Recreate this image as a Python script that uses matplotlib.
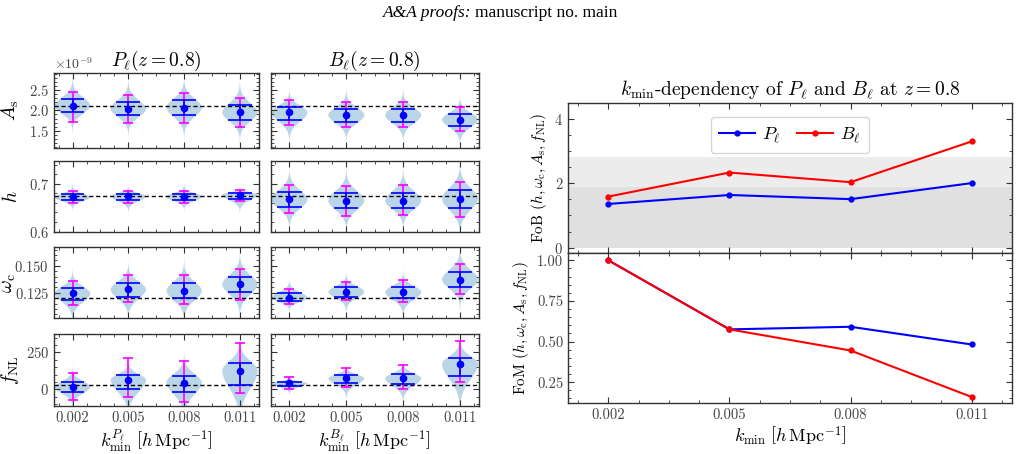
import numpy as np
import matplotlib
matplotlib.use('Agg')
import matplotlib.pyplot as plt
from matplotlib.ticker import AutoMinorLocator, FormatStrFormatter

# ---------------- data ----------------
k_vals = [0.002, 0.005, 0.008, 0.011]
k_labels = ['0.002', '0.005', '0.008', '0.011']

# A_s (units of 1e-9): mean, 1-sigma low/high, 2-sigma low/high
P_As_mean = [2.12, 2.035, 2.07, 1.95]
P_As_lo1 = [1.96, 1.875, 1.885, 1.775]
P_As_hi1 = [2.285, 2.21, 2.25, 2.135]
P_As_lo2 = [1.71, 1.685, 1.70, 1.585]
P_As_hi2 = [2.46, 2.385, 2.435, 2.30]
B_As_mean = [1.95, 1.885, 1.885, 1.775]
B_As_lo1 = [1.77, 1.725, 1.72, 1.62]
B_As_hi1 = [2.085, 2.035, 2.035, 1.91]
B_As_lo2 = [1.635, 1.585, 1.60, 1.49]
B_As_hi2 = [2.25, 2.20, 2.20, 2.075]

P_h_mean = [0.672, 0.674, 0.673, 0.677]
P_h_lo1 = [0.6655, 0.666, 0.666, 0.668]
P_h_hi1 = [0.678, 0.679, 0.679, 0.681]
P_h_lo2 = [0.659, 0.6595, 0.659, 0.663]
P_h_hi2 = [0.6845, 0.686, 0.685, 0.687]
B_h_mean = [0.6675, 0.665, 0.665, 0.669]
B_h_lo1 = [0.652, 0.649, 0.650, 0.650]
B_h_hi1 = [0.683, 0.681, 0.681, 0.687]
B_h_lo2 = [0.639, 0.633, 0.635, 0.631]
B_h_hi2 = [0.698, 0.695, 0.698, 0.704]

P_wc_mean = [0.1244, 0.1281, 0.1269, 0.1328]
P_wc_lo1 = [0.1180, 0.1213, 0.1198, 0.1254]
P_wc_hi1 = [0.1296, 0.1340, 0.1337, 0.1398]
P_wc_lo2 = [0.1133, 0.1161, 0.1142, 0.1182]
P_wc_hi2 = [0.1361, 0.1411, 0.1411, 0.1472]
B_wc_mean = [0.1204, 0.1259, 0.1256, 0.1373]
B_wc_lo1 = [0.1173, 0.1213, 0.1200, 0.1305]
B_wc_hi1 = [0.1244, 0.1300, 0.1302, 0.1444]
B_wc_lo2 = [0.1142, 0.1179, 0.1160, 0.1241]
B_wc_hi2 = [0.1281, 0.1346, 0.1364, 0.1519]

P_fNL_mean = [15, 65, 45, 126]
P_fNL_lo1 = [-20, 0, -18, 31]
P_fNL_hi1 = [47, 95, 92, 178]
P_fNL_lo2 = [-72, -54, -84, -23]
P_fNL_hi2 = [108, 210, 191, 311]
B_fNL_mean = [40, 74, 74, 171]
B_fNL_lo1 = [22, 40, 34, 90]
B_fNL_hi1 = [51, 95, 101, 213]
B_fNL_lo2 = [4, 18, 0, 47]
B_fNL_hi2 = [85, 146, 166, 328]

fid_As, fid_h, fid_wc, fid_fNL = 2.12, 0.675, 0.1204, 30

FoB_P = [1.36, 1.64, 1.51, 2.01]
FoB_B = [1.59, 2.34, 2.04, 3.31]
FoM_P = [1.0, 0.575, 0.591, 0.482]
FoM_B = [1.0, 0.575, 0.445, 0.159]
band_outer, band_inner = 2.81, 1.875

# ---------------- style ----------------
plt.rcParams.update({
    'font.family': 'serif', 'font.serif': ['cmr10'], 'mathtext.fontset': 'cm',
    'axes.formatter.use_mathtext': True,
    'xtick.direction': 'in', 'ytick.direction': 'in',
    'xtick.top': True, 'ytick.right': True,
    'xtick.major.size': 4, 'ytick.major.size': 4,
    'xtick.minor.size': 2, 'ytick.minor.size': 2,
    'axes.linewidth': 1.0, 'axes.edgecolor': '#333333',
    'xtick.color': '#333333', 'ytick.color': '#333333',
    'xtick.labelcolor': '#444444', 'ytick.labelcolor': '#444444',
    'xtick.labelsize': 10.5, 'ytick.labelsize': 10.5,
})

W, H = 1029, 454
fig = plt.figure(figsize=(W / 100, H / 100), dpi=100)


def rect(l, t, r, b):
    return [l / W, 1 - b / H, (r - l) / W, (b - t) / H]


rows = [(73, 147.5), (161, 231.5), (247.5, 318), (334, 406)]
cols = [(54, 258.5), (270.5, 479)]

HW = 0.00064  # half width of the 1-sigma bars
k_arr = np.array(k_vals)


def draw(ax, mean, lo1, hi1, lo2, hi2, fid, unit):
    mean, lo1, hi1, lo2, hi2 = [np.array(a, float) * unit for a in (mean, lo1, hi1, lo2, hi2)]
    stats = []
    for m, a, b in zip(mean, lo1, hi1):
        sl, su = (m - a), (b - m)
        y = np.concatenate([np.linspace(m - 5 * sl, m, 250), np.linspace(m, m + 5 * su, 250)[1:]])
        s = np.where(y < m, sl, su)
        z = np.abs(y - m) / s
        d = np.exp(-0.5 * (z / 1.25) ** 2) + 0.03 * np.exp(-z / 1.5)
        stats.append(dict(coords=y, vals=d, mean=m, median=m, min=y[0], max=y[-1]))
    parts = ax.violin(stats, positions=k_vals, widths=0.0019, showextrema=False)
    for body in parts['bodies']:
        body.set_facecolor('#1f77b4')
        body.set_alpha(0.3)
        body.set_edgecolor('none')
    ax.axhline(fid * unit, color='k', ls='--', lw=1.0, dashes=(3, 2), zorder=2)
    ax.errorbar(k_arr, mean, yerr=[mean - lo2, hi2 - mean], fmt='none', ecolor='magenta',
                elinewidth=1.2, capsize=3.5, capthick=1.2, zorder=3)
    ax.vlines(k_arr, lo1, hi1, color='blue', lw=1.2, zorder=4)
    ax.hlines(lo1, k_arr - HW, k_arr + HW, color='blue', lw=1.2, zorder=4)
    ax.hlines(hi1, k_arr - HW, k_arr + HW, color='blue', lw=1.2, zorder=4)
    ax.plot(k_arr, mean, 'o', color='blue', ms=4.5, zorder=5)


params = [
    ((P_As_mean, P_As_lo1, P_As_hi1, P_As_lo2, P_As_hi2), (B_As_mean, B_As_lo1, B_As_hi1, B_As_lo2, B_As_hi2),
     fid_As, 1e-9, r'$A_{\rm s}$', (1.08e-9, 2.93e-9), [1.5e-9, 2.0e-9, 2.5e-9]),
    ((P_h_mean, P_h_lo1, P_h_hi1, P_h_lo2, P_h_hi2), (B_h_mean, B_h_lo1, B_h_hi1, B_h_lo2, B_h_hi2),
     fid_h, 1.0, r'$h$', (0.6, 0.748), [0.6, 0.7]),
    ((P_wc_mean, P_wc_lo1, P_wc_hi1, P_wc_lo2, P_wc_hi2), (B_wc_mean, B_wc_lo1, B_wc_hi1, B_wc_lo2, B_wc_hi2),
     fid_wc, 1.0, r'$\omega_{\rm c}$', (0.1016, 0.167), [0.125, 0.150]),
    ((P_fNL_mean, P_fNL_lo1, P_fNL_hi1, P_fNL_lo2, P_fNL_hi2), (B_fNL_mean, B_fNL_lo1, B_fNL_hi1, B_fNL_lo2, B_fNL_hi2),
     fid_fNL, 1.0, r'$f_{\rm NL}$', (-113, 374), [0, 250]),
]

for i, (pdat, bdat, fid, unit, lab, ylim, yt) in enumerate(params):
    for j, dat in enumerate((pdat, bdat)):
        ax = fig.add_axes(rect(cols[j][0], rows[i][0], cols[j][1], rows[i][1]))
        draw(ax, *dat, fid, unit)
        ax.set_xlim(0.001, 0.012)
        ax.set_ylim(*ylim)
        ax.set_xticks(k_vals)
        ax.set_xticklabels(k_labels)
        ax.set_yticks(yt)
        ax.xaxis.set_minor_locator(AutoMinorLocator(4))
        ax.yaxis.set_minor_locator(AutoMinorLocator(5))
        ax.tick_params(which='both', top=True, right=True)
        if i < 3:
            ax.tick_params(labelbottom=False)
        if j == 1:
            ax.tick_params(labelleft=False)
            ax.yaxis.get_offset_text().set_visible(False)
        else:
            ax.set_ylabel(lab, fontsize=14)
            ax.yaxis.set_label_coords(-0.178 if i == 2 else -0.16, 0.5)
            ax.yaxis.get_offset_text().set_fontsize(10)
        if i == 0:
            ax.set_title(r'$P_\ell(z=0.8)$' if j == 0 else r'$B_\ell(z=0.8)$', fontsize=14, pad=3)
        if i == 3:
            sup = r'P_\ell' if j == 0 else r'B_\ell'
            ax.set_xlabel(r'$k_{\rm min}^{%s}\ \left[h\,{\rm Mpc}^{-1}\right]$' % sup, fontsize=13, labelpad=2)

# ---------------- right panels ----------------
ax1 = fig.add_axes(rect(568, 103.3, 1012, 253))
ax2 = fig.add_axes(rect(568, 253, 1012, 403.3))

ax1.axhspan(0, band_outer, color='#ececec', lw=0, zorder=0)
ax1.axhspan(0, band_inner, color='#e0e0e0', lw=0, zorder=0)
ax1.plot(k_vals, FoB_P, '-o', color='blue', lw=1.5, ms=3.5, label=r'$P_\ell$')
ax1.plot(k_vals, FoB_B, '-o', color='red', lw=1.5, ms=3.5, label=r'$B_\ell$')
ax1.set_ylim(-0.17, 4.5)
ax1.set_yticks([0, 2, 4])
ax1.legend(loc='upper center', ncol=2, fontsize=13, frameon=True, handlelength=2.0,
           handletextpad=0.4, borderpad=0.45, columnspacing=0.9, bbox_to_anchor=(0.5, 0.97))
ax1.set_ylabel(r'FoB $(h, \omega_{\rm c}, A_{\rm s}, f_{\rm NL})$', fontsize=11)
ax1.set_title(r'$k_{\rm min}$-dependency of $P_\ell$ and $B_\ell$ at $z=0.8$', fontsize=14, pad=6)

ax2.plot(k_vals, FoM_P, '-o', color='blue', lw=1.5, ms=3.5)
ax2.plot(k_vals, FoM_B, '-o', color='red', lw=1.5, ms=3.5)
ax2.set_ylim(0.12, 1.045)
ax2.set_yticks([0.25, 0.5, 0.75, 1.0])
ax2.yaxis.set_major_formatter(FormatStrFormatter('%.2f'))
ax2.set_ylabel(r'FoM $(h, \omega_{\rm c}, A_{\rm s}, f_{\rm NL})$', fontsize=11)
ax2.set_xlabel(r'$k_{\rm min}\ \left[h\,{\rm Mpc}^{-1}\right]$', fontsize=13, labelpad=2)

for ax in (ax1, ax2):
    ax.set_xlim(0.001, 0.012)
    ax.set_xticks(k_vals)
    ax.set_xticklabels(k_labels)
    ax.xaxis.set_minor_locator(AutoMinorLocator(4))
    ax.yaxis.set_minor_locator(AutoMinorLocator())
    ax.tick_params(which='both', top=True, right=True)
ax1.yaxis.set_minor_locator(AutoMinorLocator(4))
ax1.tick_params(labelbottom=False)
fig.align_ylabels([ax1, ax2])

# ---------------- header ----------------
fig.text(471 / W, 1 - 13 / H, 'A&A proofs:', ha='right', va='center', family='Liberation Serif',
         style='italic', fontsize=12.5)
fig.text(475 / W, 1 - 13 / H, 'manuscript no. main', ha='left', va='center', family='Liberation Serif',
         fontsize=12.5)

fig.savefig('out.png', dpi=100)
